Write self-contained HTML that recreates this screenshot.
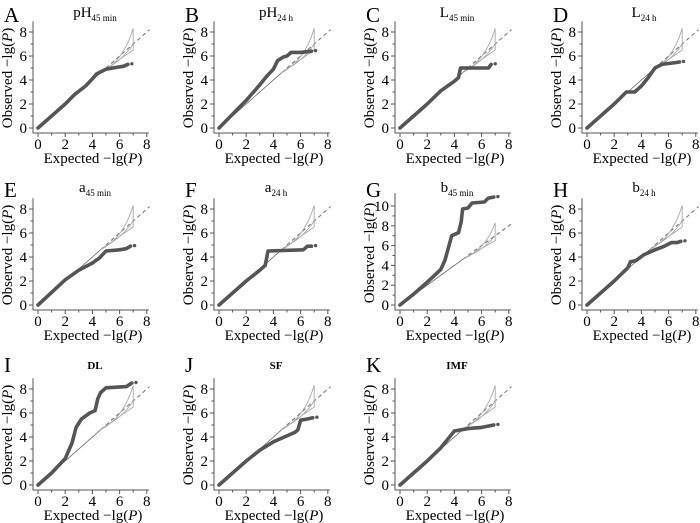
<!DOCTYPE html>
<html><head><meta charset="utf-8"><style>
body{margin:0;background:#fff;}
svg{display:block;font-family:"Liberation Serif",serif;}
</style></head><body>
<svg id="fig" width="700" height="523" viewBox="0 0 700 523" xmlns="http://www.w3.org/2000/svg"></svg>
<script>
// Panel layout info
const panelLetters = ["A","B","C","D","E","F","G","H","I","J","K"];
const panelTitles = [["pH","45 min"],["pH","24 h"],["L","45 min"],["L","24 h"],["a","45 min"],["a","24 h"],["b","45 min"],["b","24 h"],["DL",""],["SF",""],["IMF",""]];
// expected -lg(P) knots per panel
const expA=[0,2,2.7,3.5,4,4.3,5,5.5,6.3,6.6];
const obsA=[0,2,2.8,3.5,4.1,4.5,4.9,5.0,5.15,5.3];
const expB=[0,2,3,3.5,4,4.3,4.7,5,5.3,6,6.8];
const obsB=[0,2.3,3.6,4.3,4.9,5.6,5.9,6.0,6.3,6.3,6.4];
const expC=[0,2,3,3.5,4,4.3,4.45,6.5,6.7];
const obsC=[0,2,3.1,3.5,3.9,4.2,5.0,5.0,5.3];
const expD=[0,2,2.9,3.5,4,4.5,5,5.5,6.5,6.8];
const obsD=[0,2,3.0,3.0,3.5,4.2,5.0,5.3,5.45,5.5];
const expE=[0,2,3,4,4.5,5,6,6.5,6.8];
const obsE=[0,2.1,2.9,3.5,3.9,4.5,4.6,4.7,4.9];
const expF=[0,2,3,3.4,3.6,6.2,6.5,6.8];
const obsF=[0,2,2.9,3.3,4.5,4.6,4.9,4.9];
const expG=[0,1,2,3,3.3,3.6,3.8,4.3,4.5,4.6,5,5.3,6.2,6.5,6.9];
const obsG=[0,1.1,2.3,3.6,4.5,6,7,7.3,8.4,9.7,9.8,10.3,10.4,10.8,10.9];
const expH=[0,2,3,3.2,3.6,4.2,5,5.7,6.2,6.6,6.9];
const obsH=[0,2,3.1,3.6,3.7,4.2,4.6,4.9,5.2,5.2,5.3];
const expI=[0,1,2,2.5,2.8,3.2,3.8,4.2,4.4,4.6,5,6.5,6.9];
const obsI=[0,1,2.2,3.5,4.8,5.5,6,6.2,7.2,7.7,8.1,8.2,8.5];
const expJ=[0,2,3,4,4.8,5.2,5.6,5.8,6,6.5,6.9];
const obsJ=[0,2,2.9,3.6,4,4.2,4.4,4.6,5.4,5.5,5.6];
const expK=[0,2,3,3.5,4,4.5,5,6,6.9];
const obsK=[0,2,3.1,3.8,4.5,4.6,4.7,4.8,5.0];
const expAll=[expA,expB,expC,expD,expE,expF,expG,expH,expI,expJ,expK];
const obsAll=[obsA,obsB,obsC,obsD,obsE,obsF,obsG,obsH,obsI,obsJ,obsK];
const yTicksStd=[0,2,4,6,8];
const yTicksG=[0,2,4,6,8,10];
const xTicks=[0,2,4,6,8];

const colX=[38,219,400,587];
const rowY=[128,305,485];
const NS="http://www.w3.org/2000/svg";
const svg=document.getElementById("fig");
function el(tag,attrs,parent){const e=document.createElementNS(NS,tag);for(const k in attrs)e.setAttribute(k,attrs[k]);(parent||svg).appendChild(e);return e;}

panelLetters.forEach((L,i)=>{
  const row=Math.floor(i/4);
  const x0=colX[i%4], y0=rowY[row];
  const isG=(L==="G");
  const sx=13.6, sy=isG?9.9:12;
  const ymax=isG?11.3:8.9;
  const X=v=>x0+v*sx, Y=v=>y0-v*sy;
  const g=el("g",{});
  
  
  // letter
  const lt=el("text",{x:x0-34,y:[22,197,372][row],"font-size":21},g);
  
  
  lt.textContent=L;
  // title
  const tt=panelTitles[i];
  const ty=[17,192,369][row];
  const title=el("text",{x:x0+57,y:ty,"text-anchor":"middle","font-size":tt[1]?15:11,"font-weight":tt[1]?"normal":"bold"},g);
  
  
  title.textContent=tt[0];
  if(tt[1]){const s=el("tspan",{"font-size":9,dy:4},title);s.textContent=tt[1];}
  // axes
  const ax=el("path",{d:`M${x0-5},${Y(ymax)} V${y0+5} H${X(8.15)}`,fill:"none",stroke:"#555","stroke-width":1},g);
  
  
  const yt=isG?yTicksG:yTicksStd;
  for(let v=0;v<=yt[yt.length-1];v++){
    el("line",{x1:x0-5,x2:x0-(v%2?7.5:9),y1:Y(v),y2:Y(v),stroke:"#555"},g);
  }
  yt.forEach(v=>{const t=el("text",{x:x0-11,y:Y(v)+5,"text-anchor":"end","font-size":15},g);
    t.textContent=v;});
  for(let v=0;v<=8;v++){
    el("line",{x1:X(v),x2:X(v),y1:y0+5,y2:y0+(v%2?7.5:9),stroke:"#555"},g);
  }
  xTicks.forEach(v=>{const t=el("text",{x:X(v),y:y0+21,"text-anchor":"middle","font-size":15},g);
    t.textContent=v;});
  const xt=el("text",{x:x0+55,y:y0+35,"text-anchor":"middle","font-size":15},g);
  
  xt.innerHTML='Expected −lg(<tspan font-style="italic">P</tspan>)';
  const ycx=x0-26, ycy=y0-(isG?52:50);
  const yl=el("text",{x:ycx,y:ycy,"text-anchor":"middle","font-size":15,transform:`rotate(-90 ${ycx} ${ycy})`},g);
  
  yl.innerHTML='Observed −lg(<tspan font-style="italic">P</tspan>)';
  // reference diagonal
  el("line",{x1:X(0),y1:Y(0),x2:X(4.6),y2:Y(4.6),stroke:"#666","stroke-width":0.8},g);
  const dl=el("line",{x1:X(4.6),y1:Y(4.6),x2:X(8.2),y2:Y(8.2),stroke:"#777","stroke-width":1.1,"stroke-dasharray":"4,3"},g);
  
  // confidence band
  const cb=el("path",{d:`M${X(4.6)},${Y(4.6)} Q${X(6.3)},${Y(5.6)} ${X(7)},${Y(8.3)} V${Y(6.5)} L${X(4.6)},${Y(4.6)} M${X(4.8)},${Y(4.8)} Q${X(6.2)},${Y(5.6)} ${X(7)},${Y(7.0)}`,fill:"none",stroke:"#aaa","stroke-width":0.9},g);
  
  // observed series
  const ex=expAll[i], ob=obsAll[i];
  const d=ex.map((e,k)=>(k?"L":"M")+X(e).toFixed(1)+","+Y(ob[k]).toFixed(1)).join(" ");
  const ln=el("path",{d:d,fill:"none",stroke:"#555","stroke-width":3.6,"stroke-linejoin":"round","stroke-linecap":"round"},g);
  
  const n=ex.length-1;
  const pt=el("circle",{cx:X(ex[n]+0.3),cy:Y(ob[n]+0.05),r:1.7,fill:"#555"},g);
  
});
</script>
</body></html>
